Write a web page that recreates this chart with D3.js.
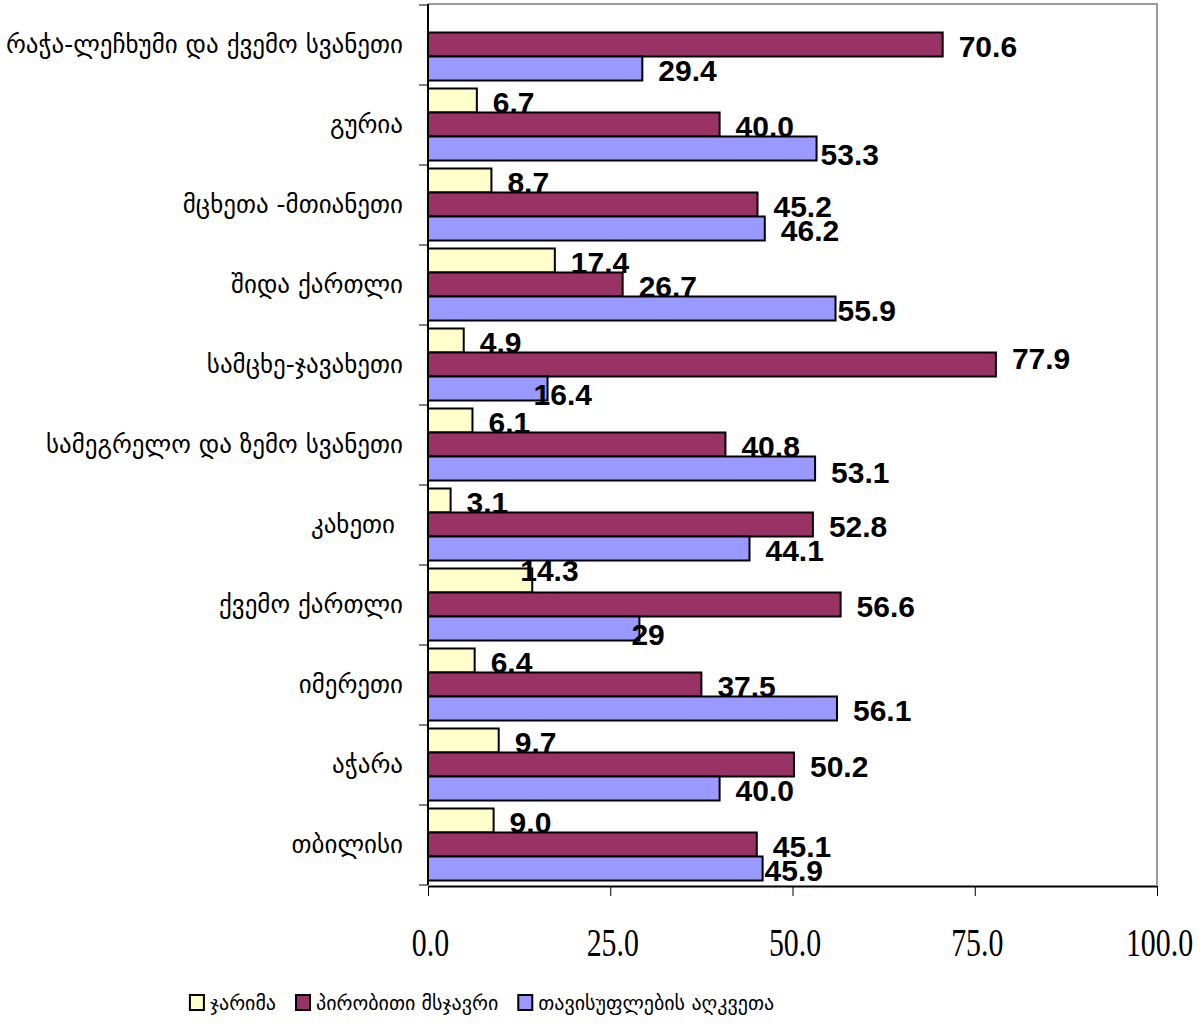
<!DOCTYPE html>
<html>
<head>
<meta charset="utf-8">
<script src="https://cdn.jsdelivr.net/npm/d3@7"></script>
<style>
  html, body { margin: 0; padding: 0; background: #fff; }
  svg { display: block; }
  .cat { white-space: pre; }
</style>
</head>
<body>
<svg id="chart" width="1203" height="1034"></svg>
<script>
// Regions, listed top to bottom
const categories = [
  "რაჭა-ლეჩხუმი და ქვემო სვანეთი",
  "გურია",
  "მცხეთა -მთიანეთი",
  "შიდა ქართლი",
  "სამცხე-ჯავახეთი",
  "სამეგრელო და ზემო სვანეთი",
  "კახეთი ",
  "ქვემო ქართლი",
  "იმერეთი",
  "აჭარა",
  "თბილისი"
];

const seriesNames = ["ჯარიმა", "პირობითი მსჯავრი", "თავისუფლების აღკვეთა"];

// Shares (%) per region, kept as printed
const fineValues      = [null, "6.7", "8.7", "17.4", "4.9", "6.1", "3.1", "14.3", "6.4", "9.7", "9.0"];
const probationValues = ["70.6", "40.0", "45.2", "26.7", "77.9", "40.8", "52.8", "56.6", "37.5", "50.2", "45.1"];
const prisonValues    = ["29.4", "53.3", "46.2", "55.9", "16.4", "53.1", "44.1", "29", "56.1", "40.0", "45.9"];

const tickValues = [0, 25, 50, 75, 100];

const seriesColors = ["#FFFFCC", "#993366", "#9999FF"];

// Hand-placed value labels: [series index, region index, dx, dy]
const labelNudges = [
  [2, 1, -12, 4],
  [2, 3, -14, 0],
  [1, 4, 0, -8],
  [2, 4, -30, 4],
  [2, 5, 0, 2],
  [0, 7, -28, -12],
  [2, 7, -24, 4],
  [2, 10, -14, 0]
];

const seriesValues = [fineValues, probationValues, prisonValues];

const svg = d3.select("#chart");

const plot = { left: 428, right: 1157, top: 5, bottom: 885 };

const x = d3.scaleLinear().domain([0, 100]).range([plot.left, plot.right]);
const y = d3.scaleBand().domain(categories).range([plot.top, plot.bottom]).padding(0);
const inner = d3.scaleBand().domain(d3.range(seriesNames.length))
  .range([3.5, y.bandwidth() - 4.5]).padding(0);

// Plot frame: grey top and right edges
svg.append("path")
  .attr("d", `M${plot.left},${plot.top - 1}H${plot.right}V${plot.bottom}`)
  .attr("fill", "none").attr("stroke", "#9a9a9a").attr("stroke-width", 2);

// Bars
const points = [];
seriesValues.forEach((vals, s) => {
  vals.forEach((v, c) => {
    if (v === null) return;
    points.push({ s, c, text: v, value: +v });
  });
});

svg.append("g").selectAll("rect").data(points).join("rect")
  .attr("x", x(0))
  .attr("y", d => y(categories[d.c]) + inner(d.s))
  .attr("width", d => x(d.value) - x(0))
  .attr("height", inner.bandwidth())
  .attr("fill", d => seriesColors[d.s])
  .attr("stroke", "#000")
  .attr("stroke-width", 2);

// Value labels
const nudge = new Map(labelNudges.map(n => [n[0] + "-" + n[1], n]));
const nd = (d, k) => nudge.has(d.s + "-" + d.c) ? nudge.get(d.s + "-" + d.c)[k] : 0;
svg.append("g").selectAll("text").data(points).join("text")
  .attr("x", d => x(d.value) + 16 + nd(d, 2))
  .attr("y", d => y(categories[d.c]) + inner(d.s) + inner.bandwidth() + 0.5 + nd(d, 3))
  .attr("font-family", "'Liberation Sans', Arial, sans-serif")
  .attr("font-weight", "bold")
  .attr("font-size", 30)
  .attr("fill", "#000")
  .text(d => d.text);

// Category axis
const yAxis = svg.append("g")
  .attr("transform", `translate(${plot.left},0)`);
yAxis.append("line")
  .attr("x1", 0).attr("x2", 0).attr("y1", plot.top - 1).attr("y2", plot.bottom)
  .attr("stroke", "#000").attr("stroke-width", 2);
const boundaries = categories.map(c => y(c)).concat([plot.bottom]);
yAxis.selectAll("line.tick").data(boundaries).join("line")
  .attr("class", "tick")
  .attr("x1", -9).attr("x2", 0)
  .attr("y1", d => d).attr("y2", d => d)
  .attr("stroke", "#000").attr("stroke-width", 1);
yAxis.selectAll("text").data(categories).join("text")
  .attr("class", "cat")
  .attr("x", -25)
  .attr("y", d => y(d) + y.bandwidth() / 2 + 8)
  .attr("text-anchor", "end")
  .attr("font-family", "'DejaVu Sans', sans-serif")
  .attr("font-size", 25)
  .attr("fill", "#000")
  .text(d => d);

// Value axis
const xAxis = svg.append("g")
  .attr("transform", `translate(0,${plot.bottom + 1})`)
  .call(d3.axisBottom(x).tickValues(tickValues).tickFormat(d3.format(".1f")).tickSize(10).tickSizeOuter(0));
xAxis.select(".domain").attr("stroke", "#000").attr("stroke-width", 2);
xAxis.selectAll(".tick line").attr("stroke", "#000").attr("stroke-width", 1);
xAxis.selectAll(".tick text")
  .attr("y", 0).attr("dy", 0)
  .attr("transform", "translate(2,70) scale(1.03,1.35)")
  .attr("font-family", "'Liberation Serif', 'Times New Roman', serif")
  .attr("font-size", 29)
  .attr("fill", "#000");

// Legend: swatch + name, laid out left to right and centred under the chart
const legendCenter = 482, swatch = 15, swatchGap = 5, itemGap = 20;
const legend = svg.append("g").attr("transform", "translate(0,995)");
const li = legend.selectAll("g").data(seriesNames).join("g");
li.append("rect")
  .attr("x", 0).attr("y", 0).attr("width", swatch - 1).attr("height", swatch)
  .attr("fill", (d, i) => seriesColors[i]).attr("stroke", "#000").attr("stroke-width", 2);
li.append("text")
  .attr("x", swatch + swatchGap).attr("y", 15)
  .attr("font-family", "'DejaVu Sans', sans-serif")
  .attr("font-size", 20)
  .attr("fill", "#000")
  .text(d => d);
const widths = li.nodes().map(n => swatch + swatchGap + n.querySelector("text").getComputedTextLength());
const total = d3.sum(widths) + itemGap * (widths.length - 1);
let cursor = legendCenter - total / 2;
li.attr("transform", (d, i) => {
  const t = `translate(${cursor},0)`;
  cursor += widths[i] + itemGap;
  return t;
});
</script>
</body>
</html>
